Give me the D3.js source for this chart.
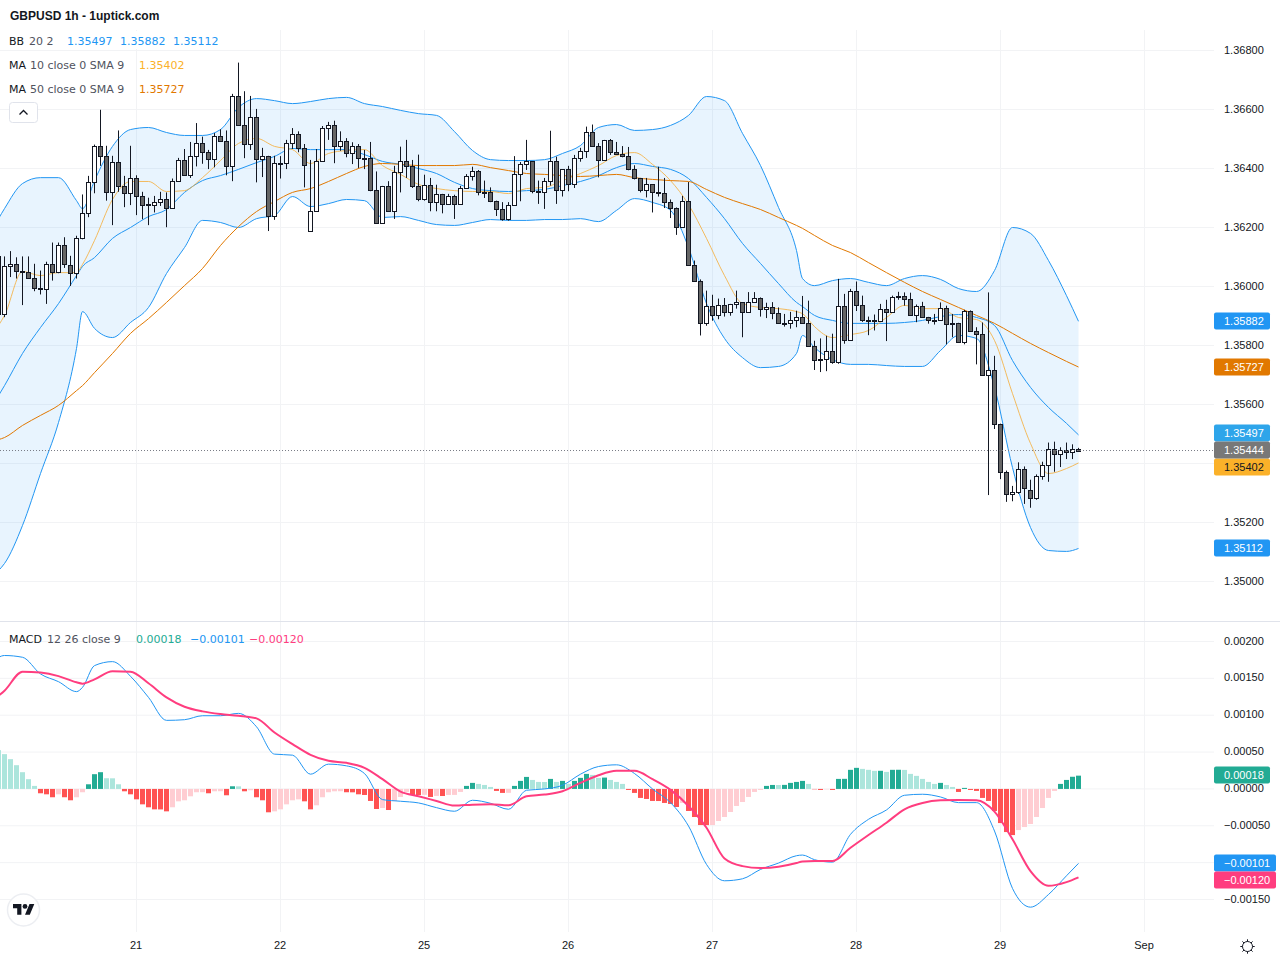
<!DOCTYPE html>
<html>
<head>
<meta charset="utf-8">
<script src="https://cdn.jsdelivr.net/npm/d3@7"></script>
<style>
  html, body { margin: 0; padding: 0; background: #fff; }
  svg { display: block; }
  text { font-family: "Liberation Sans", Arial, sans-serif; font-size: 11px; fill: #131722; }
  .legend text { font-family: "DejaVu Sans", sans-serif; }
</style>
</head>
<body>
<svg id="chart" width="1280" height="960"></svg>
<script>
// hourly bars, first one sits just off the left edge
const opens = [
  1.36102,
  1.35907,1.36070,1.36077,1.36054,1.36050,1.36029,1.35995,1.35992,1.36077,1.36050,
  1.36140,1.36072,1.36046,1.36165,1.36250,1.36355,1.36477,1.36443,1.36321,1.36423,
  1.36341,1.36316,1.36368,1.36307,1.36279,1.36277,1.36287,1.36297,1.36267,1.36358,
  1.36429,1.36379,1.36443,1.36487,1.36456,1.36433,1.36511,1.36494,1.36409,1.36646,
  1.36548,1.36484,1.36575,1.36433,1.36443,1.36240,1.36419,1.36419,1.36486,1.36517,
  1.36470,1.36188,1.36256,1.36425,1.36537,1.36548,1.36476,1.36493,1.36453,1.36476,
  1.36436,1.36436,1.36327,1.36215,1.36341,1.36256,1.36388,1.36425,1.36409,1.36341,
  1.36297,1.36344,1.36286,1.36314,1.36280,1.36307,1.36280,1.36334,1.36375,1.36392,
  1.36321,1.36320,1.36290,1.36263,1.36229,1.36276,1.36381,1.36415,1.36425,1.36324,
  1.36320,1.36358,1.36425,1.36327,1.36398,1.36347,1.36436,1.36459,1.36524,1.36476,
  1.36429,1.36497,1.36456,1.36449,1.36442,1.36398,1.36368,1.36327,1.36347,1.36320,
  1.36317,1.36286,1.36266,1.36202,1.36290,1.36073,1.36019,1.35876,1.35934,1.35903,
  1.35937,1.35914,1.35941,1.35947,1.35914,1.35947,1.35961,1.35924,1.35931,1.35910,
  1.35877,1.35876,1.35886,1.35897,1.35876,1.35798,1.35755,1.35755,1.35782,1.35745,
  1.35935,1.35819,1.35985,1.35938,1.35888,1.35887,1.35884,1.35924,1.35914,1.35969,
  1.35969,1.35958,1.35904,1.35935,1.35897,1.35888,1.35887,1.35928,1.35877,1.35877,
  1.35813,1.35918,1.35850,1.35840,1.35701,1.35717,1.35535,1.35372,1.35297,1.35304,
  1.35382,1.35311,1.35284,1.35358,1.35396,1.35450,1.35433,1.35446,1.35440,1.35450,
];
const highs = [
  1.36102,
  1.36102,1.36120,1.36099,1.36102,1.36102,1.36077,1.36054,1.36084,1.36149,1.36149,
  1.36167,1.36104,1.36172,1.36312,1.36375,1.36481,1.36599,1.36477,1.36443,1.36529,
  1.36375,1.36477,1.36377,1.36321,1.36301,1.36307,1.36321,1.36319,1.36366,1.36436,
  1.36466,1.36490,1.36554,1.36508,1.36463,1.36520,1.36533,1.36529,1.36653,1.36759,
  1.36662,1.36646,1.36602,1.36470,1.36443,1.36443,1.36442,1.36497,1.36537,1.36526,
  1.36483,1.36429,1.36466,1.36544,1.36558,1.36562,1.36526,1.36503,1.36489,1.36483,
  1.36463,1.36490,1.36390,1.36341,1.36357,1.36409,1.36474,1.36497,1.36429,1.36447,
  1.36379,1.36368,1.36345,1.36314,1.36314,1.36311,1.36341,1.36381,1.36406,1.36395,
  1.36359,1.36336,1.36291,1.36286,1.36286,1.36442,1.36422,1.36497,1.36425,1.36359,
  1.36368,1.36528,1.36440,1.36398,1.36409,1.36446,1.36470,1.36542,1.36549,1.36486,
  1.36497,1.36500,1.36490,1.36476,1.36473,1.36411,1.36368,1.36368,1.36347,1.36406,
  1.36368,1.36295,1.36268,1.36307,1.36354,1.36088,1.36024,1.35986,1.35972,1.35959,
  1.35961,1.35941,1.35986,1.35947,1.35981,1.35981,1.35963,1.35945,1.35947,1.35929,
  1.35907,1.35914,1.35918,1.35968,1.35952,1.35816,1.35824,1.35833,1.35840,1.36026,
  1.35975,1.35992,1.36017,1.35969,1.35898,1.35905,1.35941,1.35955,1.35969,1.35982,
  1.35980,1.35979,1.35939,1.35948,1.35897,1.35907,1.35946,1.35935,1.35907,1.35877,
  1.35921,1.35919,1.35862,1.35878,1.35980,1.35765,1.35535,1.35376,1.35324,1.35404,
  1.35390,1.35345,1.35363,1.35406,1.35471,1.35474,1.35455,1.35471,1.35465,1.35453,
];
const lows = [
  1.35907,
  1.35896,1.36032,1.36027,1.35937,1.36027,1.35984,1.35973,1.35941,1.36020,1.36045,
  1.36063,1.36002,1.36027,1.36160,1.36235,1.36316,1.36409,1.36291,1.36208,1.36321,
  1.36269,1.36276,1.36242,1.36228,1.36208,1.36251,1.36273,1.36201,1.36267,1.36357,
  1.36375,1.36368,1.36407,1.36416,1.36398,1.36404,1.36493,1.36377,1.36357,1.36547,
  1.36435,1.36463,1.36353,1.36371,1.36188,1.36226,1.36366,1.36398,1.36466,1.36455,
  1.36336,1.36188,1.36256,1.36422,1.36497,1.36418,1.36460,1.36438,1.36415,1.36402,
  1.36398,1.36323,1.36215,1.36215,1.36254,1.36229,1.36319,1.36368,1.36334,1.36289,
  1.36291,1.36255,1.36255,1.36248,1.36280,1.36229,1.36280,1.36332,1.36359,1.36309,
  1.36300,1.36286,1.36239,1.36223,1.36223,1.36276,1.36289,1.36395,1.36316,1.36280,
  1.36263,1.36342,1.36280,1.36305,1.36323,1.36334,1.36423,1.36436,1.36476,1.36370,
  1.36429,1.36446,1.36447,1.36438,1.36394,1.36363,1.36319,1.36302,1.36251,1.36305,
  1.36266,1.36232,1.36175,1.36202,1.36070,1.36019,1.35834,1.35867,1.35884,1.35889,
  1.35898,1.35901,1.35925,1.35828,1.35914,1.35947,1.35898,1.35893,1.35889,1.35876,
  1.35864,1.35857,1.35862,1.35875,1.35798,1.35717,1.35710,1.35713,1.35738,1.35738,
  1.35806,1.35819,1.35917,1.35880,1.35835,1.35851,1.35880,1.35815,1.35914,1.35955,
  1.35935,1.35902,1.35879,1.35894,1.35874,1.35871,1.35887,1.35804,1.35828,1.35812,
  1.35804,1.35846,1.35736,1.35701,1.35293,1.35517,1.35347,1.35270,1.35272,1.35297,
  1.35263,1.35250,1.35277,1.35345,1.35338,1.35372,1.35388,1.35415,1.35415,1.35442,
];
const closes = [
  1.35907,
  1.36070,1.36077,1.36054,1.36051,1.36029,1.35995,1.35992,1.36077,1.36050,1.36142,
  1.36075,1.36046,1.36165,1.36250,1.36355,1.36477,1.36443,1.36321,1.36423,1.36341,
  1.36316,1.36368,1.36307,1.36277,1.36277,1.36287,1.36297,1.36267,1.36358,1.36429,
  1.36379,1.36443,1.36487,1.36456,1.36433,1.36511,1.36494,1.36409,1.36646,1.36548,
  1.36484,1.36575,1.36433,1.36443,1.36240,1.36419,1.36418,1.36486,1.36517,1.36470,
  1.36412,1.36256,1.36425,1.36537,1.36548,1.36476,1.36493,1.36453,1.36476,1.36436,
  1.36435,1.36327,1.36215,1.36341,1.36256,1.36388,1.36425,1.36409,1.36341,1.36297,
  1.36344,1.36286,1.36314,1.36280,1.36307,1.36280,1.36334,1.36375,1.36392,1.36320,
  1.36319,1.36290,1.36263,1.36229,1.36276,1.36381,1.36415,1.36425,1.36324,1.36320,
  1.36358,1.36425,1.36327,1.36398,1.36347,1.36436,1.36459,1.36524,1.36476,1.36429,
  1.36497,1.36456,1.36449,1.36442,1.36397,1.36368,1.36327,1.36347,1.36320,1.36317,
  1.36286,1.36266,1.36202,1.36290,1.36073,1.36019,1.35876,1.35934,1.35903,1.35937,
  1.35914,1.35941,1.35947,1.35914,1.35947,1.35961,1.35924,1.35931,1.35910,1.35876,
  1.35875,1.35886,1.35897,1.35876,1.35798,1.35751,1.35752,1.35782,1.35745,1.35935,
  1.35819,1.35985,1.35938,1.35887,1.35886,1.35884,1.35924,1.35914,1.35965,1.35965,
  1.35958,1.35904,1.35935,1.35897,1.35887,1.35886,1.35928,1.35874,1.35874,1.35813,
  1.35918,1.35850,1.35840,1.35701,1.35717,1.35535,1.35372,1.35297,1.35304,1.35382,
  1.35318,1.35284,1.35358,1.35396,1.35450,1.35433,1.35446,1.35440,1.35450,1.35444,
];

// bar numbers the indicator lines were read at
const lineBars = [
  0,1,4,7,10,13,14,16,19,22,25,28,31,34,37,40,43,46,49,52,55,58,
  61,64,67,70,73,76,79,82,85,88,91,94,97,100,103,106,109,112,115,118,
  121,124,127,130,133,134,136,139,142,145,148,151,154,157,160,163,166,169,172,175,178,180,
];
const bbUpper = [
  1.36230,1.36264,1.36349,1.36369,1.36369,1.36291,1.36264,1.36359,1.36475,1.36532,1.36539,1.36522,
  1.36512,1.36512,1.36532,1.36607,1.36637,1.36630,1.36620,1.36627,1.36637,1.36641,
  1.36620,1.36610,1.36597,1.36586,1.36580,1.36525,1.36461,1.36430,1.36427,1.36427,
  1.36430,1.36451,1.36478,1.36539,1.36549,1.36529,1.36532,1.36546,1.36580,1.36644,
  1.36630,1.36519,1.36410,1.36268,1.36122,1.36027,1.36003,1.36020,1.36027,1.36014,
  1.36003,1.36027,1.36037,1.36024,1.35993,1.35983,1.36054,1.36200,1.36180,1.36088,
  1.35969,1.35882,
];
const bbMiddle = [
  1.35630,1.35664,1.35773,1.35861,1.35942,1.36037,1.36068,1.36098,1.36163,1.36200,1.36237,1.36261,
  1.36319,1.36359,1.36376,1.36397,1.36420,1.36441,1.36468,1.36464,1.36464,1.36464,
  1.36447,1.36424,1.36414,1.36400,1.36383,1.36353,1.36332,1.36325,1.36322,1.36325,
  1.36329,1.36342,1.36356,1.36376,1.36403,1.36417,1.36407,1.36397,1.36366,1.36302,
  1.36230,1.36146,1.36078,1.36010,1.35946,1.35932,1.35902,1.35885,1.35875,1.35875,
  1.35875,1.35878,1.35885,1.35898,1.35905,1.35895,1.35868,1.35749,1.35658,1.35590,
  1.35536,1.35497,
];
const bbLower = [
  1.35037,1.35061,1.35190,1.35366,1.35539,1.35790,1.35915,1.35858,1.35827,1.35878,1.35929,1.36044,
  1.36132,1.36224,1.36217,1.36200,1.36230,1.36241,1.36305,1.36271,1.36281,1.36295,
  1.36291,1.36234,1.36237,1.36224,1.36210,1.36207,1.36217,1.36227,1.36224,1.36224,
  1.36227,1.36227,1.36230,1.36220,1.36258,1.36298,1.36285,1.36258,1.36132,1.35942,
  1.35824,1.35759,1.35725,1.35729,1.35773,1.35834,1.35793,1.35752,1.35736,1.35736,
  1.35732,1.35729,1.35729,1.35783,1.35834,1.35824,1.35658,1.35386,1.35183,1.35105,
  1.35102,1.35112,
];
const ma10 = [
  1.35868,1.35902,1.36051,1.36037,1.36047,1.36047,1.36075,1.36156,1.36295,1.36356,1.36356,1.36322,
  1.36325,1.36369,1.36427,1.36485,1.36502,1.36475,1.36464,1.36417,1.36451,1.36461,
  1.36464,1.36410,1.36380,1.36346,1.36332,1.36325,1.36322,1.36322,1.36315,1.36332,
  1.36336,1.36359,1.36383,1.36410,1.36444,1.36454,1.36414,1.36359,1.36278,1.36163,
  1.36037,1.35942,1.35929,1.35925,1.35915,1.35908,1.35864,1.35827,1.35837,1.35851,
  1.35895,1.35936,1.35925,1.35925,1.35895,1.35888,1.35817,1.35637,1.35468,1.35366,
  1.35383,1.35402,
];
const ma50 = [
  1.35481,1.35488,1.35529,1.35563,1.35597,1.35647,1.35664,1.35708,1.35773,1.35841,1.35891,1.35946,
  1.36003,1.36061,1.36139,1.36203,1.36254,1.36288,1.36319,1.36332,1.36356,1.36383,
  1.36407,1.36417,1.36414,1.36410,1.36410,1.36410,1.36414,1.36403,1.36393,1.36383,
  1.36380,1.36376,1.36373,1.36376,1.36380,1.36369,1.36363,1.36359,1.36356,1.36329,
  1.36302,1.36281,1.36261,1.36234,1.36207,1.36197,1.36173,1.36139,1.36115,1.36081,
  1.36047,1.36014,1.35983,1.35956,1.35929,1.35902,1.35875,1.35841,1.35807,1.35776,
  1.35746,1.35727,
];

// MACD pane, in points (0.00001)
const macdLine = [
  178.6,181,178.6,156,145.5,132,137.8,167.3,172.7,152.8,124.2,93,
  93.9,99.3,99.3,102.5,84.3,47.2,45.8,20,33.6,31.3,
  20.9,-14.5,-16.7,-19,-25.4,-30.3,-15.4,-19.5,-27.6,-1.8,
  0,5,20,30.4,32.7,20.9,0,-18.6,-50.3,-102.4,
  -124.6,-121.9,-109.2,-100.6,-90.6,-89.7,-96,-99.3,-61.6,-41.2,
  -28.5,-8.6,-7.2,-10.9,-18.6,-18.6,-57.1,-135,-160.4,-143.2,
  -117.8,-101,
];
const signalLine = [
  126.5,133.3,159,157.8,153,144.6,142.8,148.7,159.6,159.1,143.3,124.2,
  111.5,105.2,101.6,99.3,95.7,76.6,60.8,46.3,38.1,35.4,
  28.6,13.2,-3.6,-10,-16.3,-22.6,-21.3,-20.8,-22.2,-10,
  -7.7,-3.2,8.2,18.6,24.5,24.5,13.2,-1.3,-23.1,-52.6,
  -94.3,-104.7,-107.4,-105.6,-100.6,-98.3,-97.9,-97.9,-79.8,-62.5,
  -45.8,-27.6,-19,-15.4,-14.9,-15.4,-30.8,-68.4,-111.5,-131.4,
  -126.4,-120,
];
const macdHist = [
  52.6,
  47.2,40.4,32.2,22.7,13.2,4.1,-5.9,-7.3,-11.3,-7.3,
  -11.3,-15.4,-11.3,-4.5,6.3,20,22.7,14.5,14.4,6.3,
  -3.2,-7.3,-14.1,-20.9,-24.9,-27.7,-27.8,-30.4,-24.9,-16.8,
  -15.4,-10,-4.5,-4.4,-5.9,-3.2,-3.1,-8.6,3.6,3.5,
  -3.2,-1.8,-11.3,-15.4,-31.7,-30.4,-27.7,-20.9,-15.4,-14.1,
  -16.8,-27.7,-22.2,-11.3,-4.5,-3.2,-3.1,-4.5,-4.6,-7.3,
  -8.2,-16.3,-27.2,-25.9,-28.6,-16.3,-10.9,-4.1,-8.2,-8.3,
  -8,-10.9,-9.5,-9.6,-8.2,-8.1,-4.1,4.1,8.2,6.8,
  5.4,2.7,-2.7,-5.4,-5.3,4.1,10.9,16.3,12.2,9.5,
  9.4,13.6,9.5,10.9,6.8,10.9,15,20.4,19,15,
  15.4,12.2,9.5,6.8,-1.4,-5.4,-12.2,-13.6,-16.3,-16.4,
  -19,-20.4,-24.5,-19,-29.9,-38.1,-49,-49.1,-49,-43.5,
  -38.1,-31.3,-23.1,-17.7,-10.9,-4.1,-1.4,4.1,5.4,5.3,
  5.5,8.2,9.5,10.9,6.8,-0.5,-1.4,-0.5,-1.4,13.6,
  13.7,25.9,28.6,27.2,25.9,24.5,24.6,23.1,25.9,26,
  25.8,20.4,17.7,13.6,9.5,6.8,8.2,5.4,2.7,-4.1,
  1.4,-1.4,-2.7,-12.2,-16.3,-29.9,-46.3,-58.5,-62.6,-55.8,
  -51.7,-47.6,-38.1,-25.9,-12.2,-2.7,6.8,12.2,16.5,18,
];

const priceTicks = [1.368, 1.366, 1.364, 1.362, 1.36, 1.358, 1.356, 1.352, 1.35];
const priceGrid = [1.368, 1.366, 1.364, 1.362, 1.36, 1.358, 1.356, 1.354, 1.352, 1.35];
const macdTicks = [0.002, 0.0015, 0.001, 0.0005, 0, -0.0005, -0.0015];
const macdGrid = [0.002, 0.0015, 0.001, 0.0005, 0, -0.0005, -0.001, -0.0015];
const timeBars = [23, 47, 71, 95, 119, 143, 167, 191];
const timeLabels = ['21', '22', '25', '26', '27', '28', '29', 'Sep'];

const paneRight = 1214;
const svg = d3.select('#chart');

const x = d3.scaleLinear().domain([0, 191]).range([-2, 1144]);
const yPrice = d3.scaleLinear().domain([1.368, 1.35]).range([50.5, 581.5]);
const yMacd = d3.scaleLinear().domain([0.002, -0.0015]).range([641.5, 899.5]);

const px = (bar) => x(bar) + 0.5;
const bars = opens.map((o, i) => ({ bar: i, o, h: highs[i], l: lows[i], c: closes[i] }));

function drawGrid() {
  const g = svg.append('g').attr('stroke', '#f2f3f5').attr('stroke-width', 1);
  g.selectAll('.vp').data(timeBars).enter().append('line')
    .attr('x1', px).attr('x2', px).attr('y1', 30).attr('y2', 621);
  g.selectAll('.vm').data(timeBars).enter().append('line')
    .attr('x1', px).attr('x2', px).attr('y1', 622).attr('y2', 932);
  g.selectAll('.hp').data(priceGrid).enter().append('line')
    .attr('x1', 0).attr('x2', paneRight).attr('y1', yPrice).attr('y2', yPrice);
  g.selectAll('.hm').data(macdGrid).enter().append('line')
    .attr('x1', 0).attr('x2', paneRight).attr('y1', yMacd).attr('y2', yMacd);

  svg.append('line').attr('x1', 0).attr('x2', 1280).attr('y1', 621.5).attr('y2', 621.5)
    .attr('stroke', '#e0e3eb');
}

function linePath(scale, values, curve) {
  return d3.line()
    .x((d, i) => px(lineBars[i]))
    .y((d) => scale(d))
    .curve(curve || d3.curveMonotoneX)(values);
}

function drawBands() {
  const area = d3.area()
    .x((d, i) => px(lineBars[i]))
    .y0((d, i) => yPrice(bbLower[i]))
    .y1((d) => yPrice(d))
    .curve(d3.curveMonotoneX);

  svg.append('path').attr('d', area(bbUpper)).attr('fill', '#2196f3').attr('fill-opacity', 0.1);

  [bbUpper, bbMiddle, bbLower].forEach((s) => {
    svg.append('path').attr('d', linePath(yPrice, s))
      .attr('fill', 'none').attr('stroke', '#2196f3').attr('stroke-width', 1);
  });
  svg.append('path').attr('d', linePath(yPrice, ma10))
    .attr('fill', 'none').attr('stroke', '#f5b042').attr('stroke-opacity', 0.85).attr('stroke-width', 1);
  svg.append('path').attr('d', linePath(yPrice, ma50))
    .attr('fill', 'none').attr('stroke', '#e17800').attr('stroke-width', 1);
}

function drawCandles() {
  const g = svg.append('g');
  g.selectAll('.wick').data(bars).enter().append('line')
    .attr('x1', (d) => px(d.bar)).attr('x2', (d) => px(d.bar))
    .attr('y1', (d) => yPrice(d.h)).attr('y2', (d) => yPrice(d.l))
    .attr('stroke', '#131722');
  g.selectAll('.body').data(bars).enter().append('rect')
    .attr('x', (d) => px(d.bar) - 2)
    .attr('width', 4)
    .attr('y', (d) => Math.round(yPrice(Math.max(d.o, d.c))) + 0.5)
    .attr('height', (d) => Math.max(1, Math.round(Math.abs(yPrice(d.o) - yPrice(d.c)))))
    .attr('fill', (d) => (d.c >= d.o ? '#fff' : '#666'))
    .attr('stroke', '#131722');
}

function drawLastPrice() {
  const last = closes[closes.length - 1];
  svg.append('line')
    .attr('x1', 0).attr('x2', paneRight)
    .attr('y1', yPrice(last)).attr('y2', yPrice(last))
    .attr('stroke', '#787b86').attr('stroke-dasharray', '1 2');
}

function drawMacd() {
  const g = svg.append('g');
  const colour = (v, i) => {
    const prev = i > 0 ? macdHist[i - 1] : v + 1;
    if (v >= 0) return v > prev ? '#22ab94' : '#ace5dc';
    return v < prev ? '#ff5252' : '#ffcdd2';
  };
  g.selectAll('rect').data(macdHist).enter().append('rect')
    .attr('x', (d, i) => x(i) - 2)
    .attr('width', 5)
    .attr('y', (d) => yMacd(Math.max(d, 0) / 1e5))
    .attr('height', (d) => Math.abs(yMacd(d / 1e5) - yMacd(0)))
    .attr('fill', colour);

  const scaled = (d) => yMacd(d / 1e5);
  svg.append('path').attr('d', linePath(scaled, macdLine))
    .attr('fill', 'none').attr('stroke', '#2196f3').attr('stroke-width', 1);
  svg.append('path').attr('d', linePath(scaled, signalLine))
    .attr('fill', 'none').attr('stroke', '#ff3d7f').attr('stroke-width', 2);
}

function drawAxes() {
  const right = d3.axisRight(yPrice).tickValues(priceTicks).tickSize(0).tickPadding(10)
    .tickFormat(d3.format('.5f'));
  const rightM = d3.axisRight(yMacd).tickValues(macdTicks).tickSize(0).tickPadding(10)
    .tickFormat(d3.format('.5f'));
  const bottom = d3.axisBottom(x).tickValues(timeBars).tickSize(0).tickPadding(0)
    .tickFormat((d, i) => timeLabels[i]);

  [svg.append('g').attr('transform', `translate(${paneRight},-1)`).call(right),
    svg.append('g').attr('transform', `translate(${paneRight},-1)`).call(rightM),
    svg.append('g').attr('transform', 'translate(-0.5,941)').call(bottom)]
    .forEach((a) => {
      a.select('.domain').remove();
      a.attr('font-family', null).attr('font-size', null);
    });
}

// offset: tags get pushed apart so they don't sit on top of each other
function drawTag(scale, value, label, bg, fg, w, offset) {
  const y = Math.floor(scale(value)) + (offset || 0);
  svg.append('rect').attr('x', paneRight).attr('y', y - 8.5).attr('width', w).attr('height', 17)
    .attr('rx', 2).attr('fill', bg);
  svg.append('text').attr('x', paneRight + 10).attr('y', y + 3.5).style('fill', fg).text(label);
}

function drawTags() {
  drawTag(yPrice, 1.35882, '1.35882', '#2196f3', '#fff', 56);
  drawTag(yPrice, 1.35727, '1.35727', '#e17800', '#fff', 56);
  drawTag(yPrice, 1.35497, '1.35497', '#2ea5ea', '#fff', 56, -1);
  drawTag(yPrice, 1.35402, '1.35402', '#fbb129', '#131722', 56, 5);
  drawTag(yPrice, 1.35444, '1.35444', '#787878', '#fff', 56);
  drawTag(yPrice, 1.35112, '1.35112', '#2196f3', '#fff', 56);
  drawTag(yMacd, 0.00018, '0.00018', '#22ab94', '#fff', 56);
  drawTag(yMacd, -0.00101, '\u22120.00101', '#2196f3', '#fff', 62);
  drawTag(yMacd, -0.0012, '\u22120.00120', '#ff3d7f', '#fff', 62, 3);
}

function legendRow(y, parts) {
  const g = svg.append('g').attr('class', 'legend');
  parts.forEach((p) => {
    g.append('text').attr('x', p[0]).attr('y', y).style('fill', p[2]).text(p[1]);
  });
}

function drawLegend() {
  svg.append('rect').attr('x', 0).attr('y', 0).attr('width', paneRight).attr('height', 30).attr('fill', '#fff');
  svg.append('rect').attr('x', 0).attr('y', 31).attr('width', 225).attr('height', 18).attr('fill', '#fff');

  svg.append('text').attr('x', 10).attr('y', 20)
    .style('font-weight', 'bold').style('font-size', '12px').text('GBPUSD 1h - 1uptick.com');

  const muted = '#50535e';
  legendRow(45, [[9, 'BB', '#131722'], [29, '20 2', muted], [67, '1.35497', '#2196f3'],
    [120, '1.35882', '#2196f3'], [173, '1.35112', '#2196f3']]);
  legendRow(69, [[9, 'MA', '#131722'], [30, '10 close 0 SMA 9', muted], [139, '1.35402', '#fbb129']]);
  legendRow(93, [[9, 'MA', '#131722'], [30, '50 close 0 SMA 9', muted], [139, '1.35727', '#e17800']]);
  legendRow(643, [[9, 'MACD', '#131722'], [47, '12 26 close 9', muted], [136, '0.00018', '#22ab94'],
    [190, '\u22120.00101', '#2196f3'], [249, '\u22120.00120', '#ff3d7f']]);

  // collapse button
  svg.append('rect').attr('x', 9.5).attr('y', 102.5).attr('width', 28).attr('height', 20).attr('rx', 3)
    .attr('fill', '#fff').attr('stroke', '#e0e3eb');
  svg.append('path').attr('d', 'M19.5 114.5 L23.5 110.5 L27.5 114.5')
    .attr('fill', 'none').attr('stroke', '#131722').attr('stroke-width', 1.3);
}

function drawLogo() {
  svg.append('circle').attr('cx', 23.5).attr('cy', 910).attr('r', 16)
    .attr('fill', '#fff').attr('stroke', '#eceef2').attr('stroke-width', 1.5);
  const g = svg.append('g').attr('transform', 'translate(13,901.6) scale(0.6)').attr('fill', '#131722');
  g.append('path').attr('d', 'M14 22H7V11H0V4h14v18zM28 22h-8l7.5-18h8L28 22z');
  g.append('circle').attr('cx', 20).attr('cy', 8).attr('r', 4);
}

function drawGear() {
  const g = svg.append('g').attr('transform', 'translate(1247.5,946.5)')
    .attr('fill', 'none').attr('stroke', '#131722');
  g.append('circle').attr('r', 5);
  d3.range(8).forEach((k) => {
    const a = (k * Math.PI) / 4;
    g.append('line')
      .attr('x1', 5 * Math.cos(a)).attr('y1', 5 * Math.sin(a))
      .attr('x2', 7.2 * Math.cos(a)).attr('y2', 7.2 * Math.sin(a));
  });
}

drawGrid();
drawBands();
drawCandles();
drawLastPrice();
drawMacd();
drawLegend();
drawAxes();
drawTags();
drawLogo();
drawGear();
</script>
</body>
</html>
